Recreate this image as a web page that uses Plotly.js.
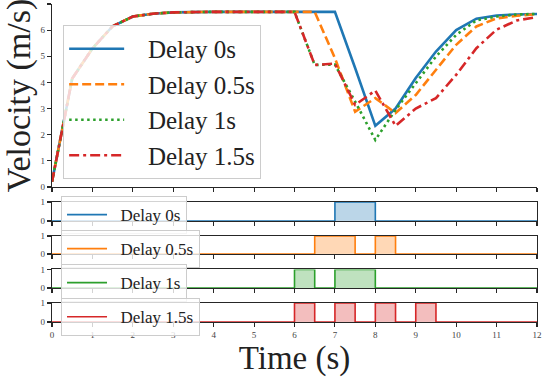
<!DOCTYPE html>
<html>
<head>
<meta charset="utf-8">
<script src="https://cdn.plot.ly/plotly-3.0.1.min.js"></script>
<style>html,body{margin:0;padding:0;background:#fff}#chart{width:544px;height:378px}</style>
</head>
<body>
<div id="chart"></div>
<script>
const FONT = "Liberation Serif";
const colors = ["#1f77b4", "#ff7f0e", "#2ca02c", "#d62728"];
const fills = ["rgba(31,119,180,0.3)", "rgba(255,127,14,0.3)", "rgba(44,160,44,0.3)", "rgba(214,39,40,0.3)"];
const names = ["Delay 0s", "Delay 0.5s", "Delay 1s", "Delay 1.5s"];

const t = [0, 0.5, 1, 1.5, 2, 2.5, 3, 3.5, 4, 4.5, 5, 5.5, 6, 6.5, 7, 7.5, 8, 8.5, 9, 9.5, 10, 10.5, 11, 11.5, 12];

// velocity per delay
const vel0  = [0.2, 4.15, 5.3, 6.15, 6.52, 6.63, 6.68, 6.7, 6.7, 6.7, 6.7, 6.7, 6.7, 6.7, 6.7, 4.55, 2.34, 3.0, 4.17, 5.18, 6.0, 6.44, 6.56, 6.6, 6.62];
const vel05 = [0.2, 4.15, 5.3, 6.15, 6.52, 6.63, 6.68, 6.7, 6.7, 6.7, 6.7, 6.7, 6.7, 6.7, 4.93, 2.88, 3.4, 2.83, 3.52, 4.48, 5.44, 6.14, 6.45, 6.55, 6.61];
const vel1  = [0.2, 4.15, 5.3, 6.15, 6.52, 6.63, 6.68, 6.7, 6.7, 6.7, 6.7, 6.7, 6.7, 4.67, 4.68, 3.27, 1.8, 2.95, 3.95, 4.99, 5.82, 6.37, 6.52, 6.6, 6.62];
const vel15 = [0.2, 4.15, 5.3, 6.15, 6.52, 6.63, 6.68, 6.7, 6.7, 6.7, 6.7, 6.7, 6.7, 4.67, 4.72, 3.14, 3.69, 2.34, 3.0, 3.4, 4.29, 5.31, 6.02, 6.37, 6.5];

// on/off signal per delay (held until next sample)
const sig0  = [0,0,0,0,0,0,0,0,0,0,0,0,0,0,1,1,0,0,0,0,0,0,0,0,0];
const sig05 = [0,0,0,0,0,0,0,0,0,0,0,0,0,1,1,0,1,0,0,0,0,0,0,0,0];
const sig1  = [0,0,0,0,0,0,0,0,0,0,0,0,1,0,1,1,0,0,0,0,0,0,0,0,0];
const sig15 = [0,0,0,0,0,0,0,0,0,0,0,0,1,0,1,0,1,0,1,0,0,0,0,0,0];

const vels = [vel0, vel05, vel1, vel15];
const sigs = [sig0, sig05, sig1, sig15];
const dashes = ["solid", "9px,4px", "2.5px,3.5px", "10px,4px,3px,4px"];
const pad = (s, n) => "\u00a0".repeat(n) + s;

const traces = [];
vels.forEach((v, i) => traces.push({
    x: t, y: v, type: "scatter", mode: "lines", name: pad(names[i], 3),
    line: { color: colors[i], width: 2.6, dash: dashes[i] },
    legendgroup: "v" + i, xaxis: "x", yaxis: "y"
}));
sigs.forEach((s, i) => {
    const ax = String(i + 2);
    traces.push({
        x: t, y: s, type: "scatter", mode: "lines", showlegend: false,
        line: { width: 0, shape: "hv" }, fill: "tozeroy", fillcolor: fills[i],
        xaxis: "x" + ax, yaxis: "y" + ax, hoverinfo: "skip"
    });
    traces.push({
        x: t, y: s, type: "scatter", mode: "lines", name: pad(names[i], 2),
        line: { color: colors[i], width: 1.6, shape: "hv" },
        legend: "legend" + ax, xaxis: "x" + ax, yaxis: "y" + ax
    });
});

const axBase = {
    showline: true, linecolor: "#262626", linewidth: 1.2, color: "#333",
    ticks: "outside", ticklen: 4, tickwidth: 1.1, tickcolor: "#262626",
    showgrid: false, zeroline: false,
    tickfont: { family: FONT, size: 9, color: "#444" }
};

const layout = {
    width: 544, height: 378,
    margin: { l: 52, r: 7, t: 4, b: 56 },
    paper_bgcolor: "#fff", plot_bgcolor: "#fff",
    font: { family: FONT, color: "#222" },
    xaxis: Object.assign({}, axBase, { range: [0, 12], dtick: 1, showticklabels: false, anchor: "y" }),
    yaxis: Object.assign({}, axBase, {
        range: [0, 7], dtick: 1, domain: [0.4245, 1], anchor: "x",
        title: { text: "Velocity (m/s)", font: { family: FONT, size: 34, color: "#222" }, standoff: 4 }
    }),
    legend: {
        x: 0.023, y: 0.934, xanchor: "left", yanchor: "top",
        bgcolor: "rgba(255,255,255,0.8)", bordercolor: "#cccccc", borderwidth: 1,
        font: { family: FONT, size: 25, color: "#222" }, tracegroupgap: 0, itemwidth: 55
    },
    showlegend: true
};

const stripDom = [[0.3176, 0.3774], [0.2138, 0.2704], [0.1069, 0.1651], [0, 0.0597]];
const legTop = [0.396, 0.289, 0.182, 0.075];
stripDom.forEach((d, i) => {
    const ax = String(i + 2);
    layout["xaxis" + ax] = Object.assign({}, axBase, {
        range: [0, 12], dtick: 1, matches: "x", anchor: "y" + ax, mirror: true,
        showticklabels: i === 3, layer: "below traces"
    });
    layout["yaxis" + ax] = Object.assign({}, axBase, {
        range: [0, 1], tickvals: [0, 1], domain: d, anchor: "x" + ax, mirror: true,
        layer: "below traces", fixedrange: true
    });
    layout["legend" + ax] = {
        x: 0.0186, y: legTop[i], xanchor: "left", yanchor: "top",
        bgcolor: "rgba(255,255,255,0.8)", bordercolor: "#cccccc", borderwidth: 1,
        font: { family: FONT, size: 17, color: "#222" }, itemwidth: 40
    };
});
layout.xaxis5.title = { text: "Time (s)", font: { family: FONT, size: 33, color: "#222" }, standoff: 4 };

Plotly.newPlot("chart", traces, layout, { displayModeBar: false, staticPlot: true });
</script>
</body>
</html>
